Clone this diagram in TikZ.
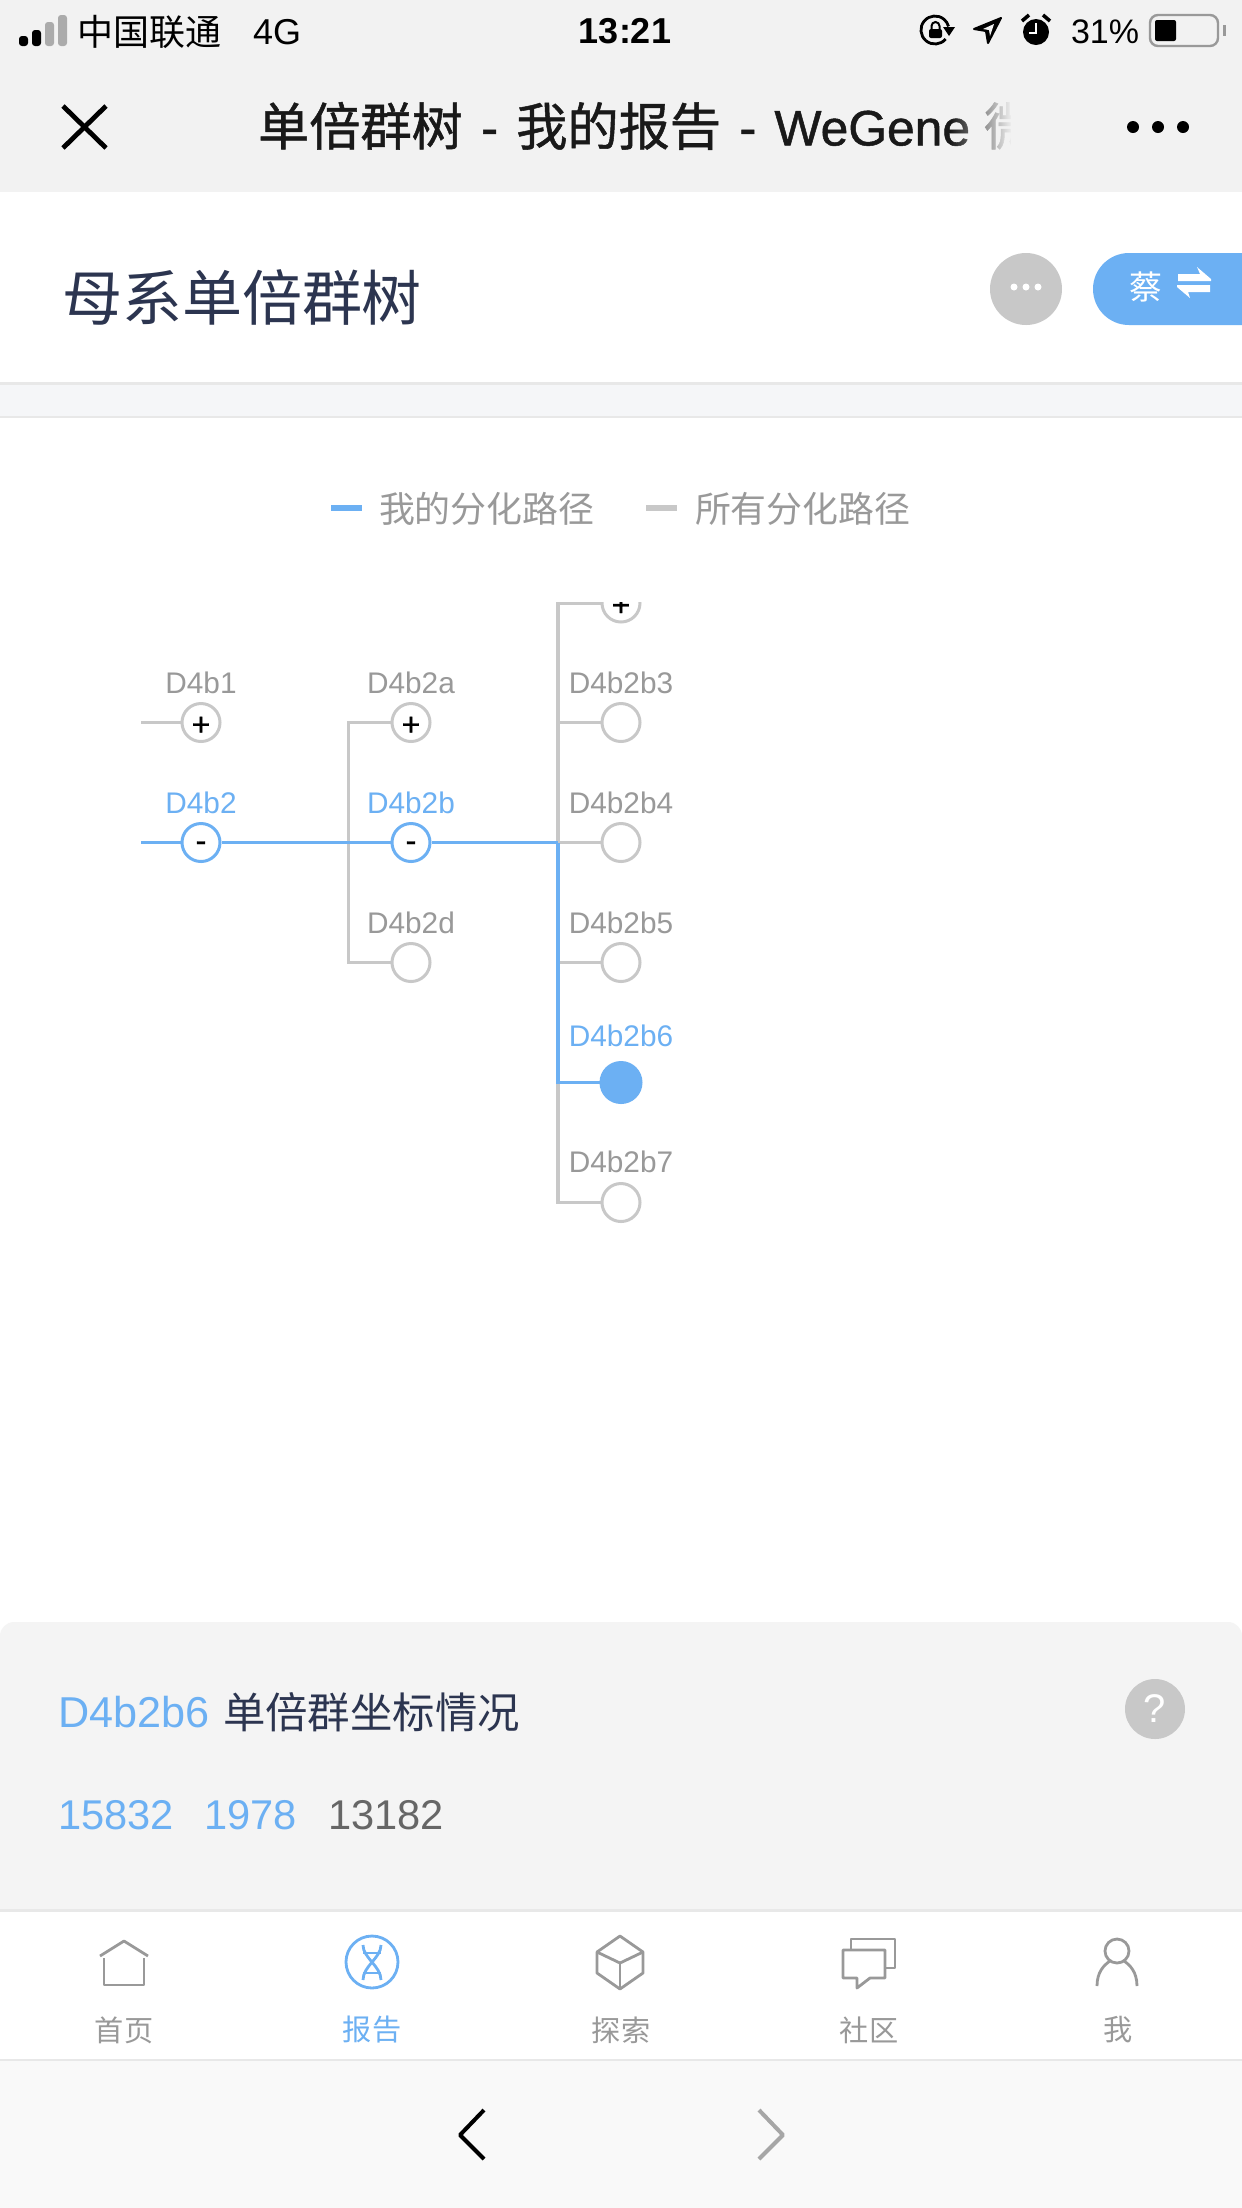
\documentclass[tikz,border=0pt]{standalone}
\usepackage{fontspec}
\setmainfont{Liberation Sans}
\newfontfamily\cjk{Noto Sans CJK SC}
\newfontfamily\cjkmed[FakeBold=1]{Noto Sans CJK SC}
\newfontfamily\latmed[FakeBold=1]{Liberation Sans}
\usetikzlibrary{fadings}
\definecolor{barbg}{HTML}{F2F2F2}
\definecolor{bandbg}{HTML}{F5F6F8}
\definecolor{panelbg}{HTML}{F4F4F4}
\definecolor{navbg}{HTML}{F9F9F9}
\definecolor{rule}{HTML}{E8E8E8}
\definecolor{myblue}{HTML}{6CB0F3}
\definecolor{mygrey}{HTML}{C8C8C8}
\definecolor{labelgrey}{HTML}{999999}
\definecolor{inkdark}{HTML}{2C3550}
\newcommand{\plusmark}{\raisebox{-6.4pt}[0pt][0pt]{\latmed +}}
\newcommand{\minusmark}{\raisebox{-4.4pt}[0pt][0pt]{\latmed -}}
\newcommand{\titlespace}{\spaceskip=9.1pt\relax}
\tikzset{
  txt/.style={inner sep=0pt, outer sep=0pt},
  treelabel/.style={txt, font=\fontsize{14.9}{16}\selectfont, text=labelgrey},
  bluelabel/.style={treelabel, text=myblue},
  treenode/.style={circle, draw=mygrey, fill=white, line width=1.5pt, minimum size=19pt, inner sep=0pt, font=\fontsize{16}{16}\selectfont},
  bluenode/.style={treenode, draw=myblue},
  leafblue/.style={treenode, draw=myblue, fill=myblue, minimum size=20pt},
  greyline/.style={draw=mygrey, line width=1.6pt},
  blueline/.style={draw=myblue, line width=1.6pt},
  tablabel/.style={txt, font=\cjk\fontsize{14.6}{16}\selectfont, text=labelgrey},
  tabicon/.style={draw=labelgrey, line width=1.4pt, line join=round},
}
\begin{document}
\begin{tikzpicture}[x=0.5pt,y=-0.5pt]
\useasboundingbox (0,0) rectangle (1242,2208);
\fill[white] (0,0) rectangle (1242,2208);

% top bars
\fill[barbg] (0,0) rectangle (1242,192);
\fill[rule] (0,382) rectangle (1242,385);
\fill[bandbg] (0,385) rectangle (1242,416);
\fill[rule] (0,416) rectangle (1242,418);

% status bar
\fill[black, rounded corners=1.5pt] (19,36) rectangle (28,46);
\fill[black, rounded corners=1.5pt] (32,30) rectangle (41,46);
\fill[black!33, rounded corners=1.5pt] (45,22) rectangle (54,46);
\fill[black!33, rounded corners=1.5pt] (58,15) rectangle (67,46);
\node[txt, font=\cjk\fontsize{18}{18}\selectfont, anchor=west] (carrier) at (77,32) {中国联通};
\node[txt, font=\fontsize{18}{18}\selectfont, anchor=west] (net) at (253,32) {4G};
\node[txt, font=\bfseries\fontsize{18}{18}\selectfont] (clock) at (625,31) {13:21};
\draw[line width=1.4pt] (945.7,39) arc (40:345:14);
\fill (943,27) -- (955,27) -- (949,36) -- cycle;
\fill[rounded corners=1pt] (929,29) rectangle (942,38);
\draw[line width=1pt] (931.5,29) -- (931.5,26) arc (180:360:4) -- (939.5,29);
\fill[line join=round, draw=black, line width=1pt] (1001,18) -- (974,29) -- (986,31) -- (988,43) -- cycle;
\fill[barbg] (994,24) -- (983,29) -- (989,30) -- (990,36) -- cycle;
\fill (1036,32) circle (13);
\draw[white, line width=1pt] (1036,23) -- (1036,33) -- (1029,33);
\draw[line width=1.8pt] (1022,21) -- (1029,15);
\draw[line width=1.8pt] (1050,21) -- (1043,15);
\node[txt, font=\fontsize{17}{18}\selectfont, anchor=west] (batt) at (1071,32) {31\%};
\draw[labelgrey, line width=1.2pt, rounded corners=4pt] (1150,15) rectangle (1218,46);
\fill[black, rounded corners=1pt] (1155,20) rectangle (1176,41);
\fill[labelgrey] (1223,25) rectangle (1226,36);

% title bar
\draw[line width=2.4pt] (63,106) -- (106,148);
\draw[line width=2.4pt] (106,106) -- (63,148);
\node[txt, font=\cjkmed\fontsize{25.6}{26}\selectfont, text=black!90, anchor=west] (pagetitle) at (258,126) {\titlespace 单倍群树 {\latmed -} 我的报告 {\latmed -} {\latmed\fontsize{24.9}{26}\selectfont WeGene}\kern-2pt{} 微};
\fill[barbg, path fading=west] (950,95) rectangle (1012,160);
\fill[barbg] (1011,90) rectangle (1100,165);
\fill (1133,127) circle (6);
\fill (1158,127) circle (6);
\fill (1183,127) circle (6);

% heading row
\node[txt, font=\cjk\fontsize{30}{32}\selectfont, text=inkdark, anchor=west] (heading) at (62,297) {母系单倍群树};
\fill[mygrey] (1026,289) circle (36);
\fill[white] (1014,287) circle (3.5);
\fill[white] (1026,287) circle (3.5);
\fill[white] (1038,287) circle (3.5);
\fill[myblue, rounded corners=18pt] (1093,253) rectangle (1280,325);
\node[txt, font=\cjk\fontsize{16.5}{18}\selectfont, text=white] (who) at (1146,287) {蔡};
\fill[white] (1178,274) -- (1200,274) -- (1197,267) -- (1211,279) -- (1211,281) -- (1178,281) -- cycle;
\fill[white] (1177,285) -- (1210,285) -- (1210,292) -- (1188,292) -- (1190,298) -- (1177,287) -- cycle;

% legend
\fill[myblue] (331,505) rectangle (362,511);
\node[txt, font=\cjk\fontsize{17.95}{18}\selectfont, text=labelgrey, anchor=west] (legendA) at (379,509) {我的分化路径};
\fill[mygrey] (646,505) rectangle (677,511);
\node[txt, font=\cjk\fontsize{17.95}{18}\selectfont, text=labelgrey, anchor=west] (legendB) at (695,509) {所有分化路径};

% tree
\coordinate (startA) at (141,722.5);
\coordinate (startB) at (141,842.5);
\coordinate (branchA) at (348.5,842.5);
\coordinate (branchB) at (558,842.5);

\node[treenode] (D4b1) at (201,722.5) {\plusmark};
\node[bluenode] (D4b2) at (201,842.5) {\minusmark};
\node[treenode] (D4b2a) at (411,722.5) {\plusmark};
\node[bluenode] (D4b2b) at (411,842.5) {\minusmark};
\node[treenode] (D4b2d) at (411,962.5) {};
\node[treenode] (D4b2b3) at (621,722.5) {};
\node[treenode] (D4b2b4) at (621,842.5) {};
\node[treenode] (D4b2b5) at (621,962.5) {};
\node[leafblue] (D4b2b6) at (621,1082.5) {};
\node[treenode] (D4b2b7) at (621,1202.5) {};

\node[treelabel] (lab1) at (201,683) {D4b1};
\node[bluelabel] (lab2) at (201,803) {D4b2};
\node[treelabel] (lab2a) at (411,683) {D4b2a};
\node[bluelabel] (lab2b) at (411,803) {D4b2b};
\node[treelabel] (lab2d) at (411,923) {D4b2d};
\node[treelabel] (lab2b3) at (621,683) {D4b2b3};
\node[treelabel] (lab2b4) at (621,803) {D4b2b4};
\node[treelabel] (lab2b5) at (621,923) {D4b2b5};
\node[bluelabel] (lab2b6) at (621,1036) {D4b2b6};
\node[treelabel] (lab2b7) at (621,1162) {D4b2b7};

\begin{scope}
\clip (500,602) rectangle (700,900);
\node[treenode] (D4b2b2) at (621,603) {\plusmark};
\draw[greyline] (D4b2b2) -| (branchB);
\end{scope}

\draw[greyline] (startA) -- (D4b1);
\draw[greyline] (D4b2a) -| (branchA);
\draw[greyline] (D4b2d) -| (branchA);
\draw[greyline] (D4b2b3) -| (branchB);
\draw[greyline] (D4b2b4) -- (branchB);
\draw[greyline] (D4b2b5) -| (branchB);
\draw[greyline] (D4b2b7) -| (branchB);
\draw[blueline] (startB) -- (D4b2);
\draw[blueline] (D4b2) -- (D4b2b);
\draw[blueline] (D4b2b) -- (branchB);
\draw[blueline] (branchB) |- (D4b2b6);

% info panel
\fill[panelbg, rounded corners=7pt] (0,1622) rectangle (1242,1940);
\fill[white] (0,1909) rectangle (1242,2060);
\fill[rule] (0,1909) rectangle (1242,1912);
\node[txt, font=\fontsize{21.6}{22}\selectfont, text=myblue, anchor=west] (hap) at (58,1712) {D4b2b6};
\node[txt, font=\cjk\fontsize{21.2}{22}\selectfont, text=inkdark, anchor=west] (hapinfo) at (223,1712) {单倍群坐标情况};
\fill[mygrey] (1155,1709) circle (30);
\node[txt, font=\fontsize{20}{22}\selectfont, text=white] (help) at (1155,1709) {?};
\node[txt, font=\fontsize{20.8}{22}\selectfont, text=myblue, anchor=west] (posA) at (58,1815) {15832};
\node[txt, font=\fontsize{20.8}{22}\selectfont, text=myblue, anchor=west] (posB) at (204,1815) {1978};
\node[txt, font=\fontsize{20.8}{22}\selectfont, text=black!60, anchor=west] (posC) at (328,1815) {13182};

% tab bar
\draw[tabicon] (100,1956) -- (124,1941) -- (148,1956);
\draw[tabicon] (104,1958) -- (104,1985) -- (144,1985) -- (144,1958);
\draw[myblue, line width=1.4pt] (372,1962) circle (26);
\draw[myblue, line width=1.4pt] (363,1953) -- (381,1953);
\draw[myblue, line width=1.4pt] (363,1973) -- (381,1973);
\draw[myblue, line width=1.4pt] (363,1945) .. controls (363,1958) and (381,1966) .. (381,1980);
\draw[myblue, line width=1.4pt] (381,1945) .. controls (381,1958) and (363,1966) .. (363,1980);
\draw[tabicon] (620,1936) -- (643,1952) -- (643,1973) -- (620,1989) -- (597,1973) -- (597,1952) -- cycle;
\draw[tabicon] (597,1952) -- (620,1963) -- (643,1952);
\draw[tabicon] (620,1963) -- (620,1989);
\draw[tabicon] (851,1950) -- (851,1939) -- (895,1939) -- (895,1968) -- (885,1968);
\draw[tabicon] (843,1950) -- (885,1950) -- (885,1978) -- (870,1978) -- (857,1988) -- (857,1978) -- (843,1978) -- cycle;
\draw[tabicon] (1117,1951) circle (12);
\draw[tabicon] (1097,1986) .. controls (1097,1972) and (1104,1965) .. (1110,1961);
\draw[tabicon] (1137,1986) .. controls (1137,1972) and (1130,1965) .. (1124,1961);
\node[tablabel] (tabA) at (124,2030) {首页};
\node[tablabel, text=myblue] (tabB) at (372,2030) {报告};
\node[tablabel] (tabC) at (621,2030) {探索};
\node[tablabel] (tabD) at (869,2030) {社区};
\node[tablabel] (tabE) at (1118,2030) {我};

% browser nav
\fill[navbg] (0,2060) rectangle (1242,2208);
\fill[rule] (0,2059) rectangle (1242,2061);
\draw[line width=2pt, line join=round] (484,2110) -- (460,2135) -- (484,2159);
\draw[draw=black!35, line width=2pt, line join=round] (759,2110) -- (783,2135) -- (759,2159);
\end{tikzpicture}
\end{document}
